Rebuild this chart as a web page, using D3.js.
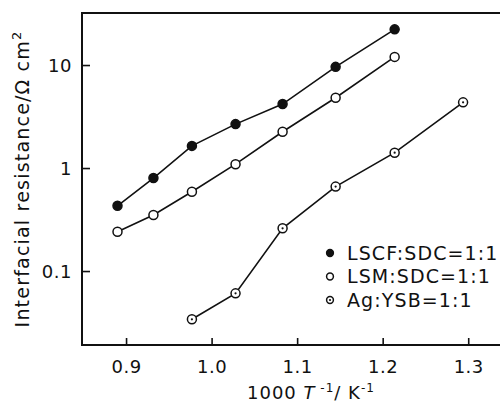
<!DOCTYPE html>
<html>
<head>
<meta charset="utf-8">
<script src="https://cdn.jsdelivr.net/npm/d3@7"></script>
<style>
  body { margin: 0; background: #fff; }
  text { font-family: "DejaVu Sans", sans-serif; fill: #111; }
</style>
</head>
<body>
<svg id="chart" width="500" height="414"></svg>
<script>
// values (1000/T in 1/K, resistance in ohm cm2)
let tempX = [0.890, 0.932, 0.977, 1.028, 1.083, 1.145, 1.214, 1.294];
let lscfR = [0.43, 0.80, 1.64, 2.67, 4.18, 9.6, 22.2];
let lsmR = [0.241, 0.35, 0.589, 1.09, 2.25, 4.81, 12.0];
let agR = [0.034, 0.0607, 0.26, 0.66, 1.41, 4.34];
let seriesNames = ["LSCF:SDC=1:1", "LSM:SDC=1:1", "Ag:YSB=1:1"];
let xTicks = [0.9, 1.0, 1.1, 1.2, 1.3];
let yTicks = [0.1, 1, 10];

let svg = d3.select("#chart");

let margin = {top: 13, right: -5, bottom: 69, left: 82};
let width = 500 - margin.left - margin.right;
let height = 414 - margin.top - margin.bottom;

let x = d3.scaleLinear()
  .domain([0.8485, 1.343])
  .range([0, width]);

let y = d3.scaleLog()
  .domain([0.01914, 32.0])
  .range([height, 0]);

let plot = svg.append("g")
  .attr("transform", "translate(" + margin.left + "," + margin.top + ")");

// frame
plot.append("rect")
  .attr("x", 0).attr("y", 0)
  .attr("width", width).attr("height", height)
  .attr("fill", "none")
  .attr("stroke", "#111")
  .attr("stroke-width", 2);

let xAxis = d3.axisBottom(x)
  .tickValues(xTicks)
  .tickSizeInner(-7)
  .tickSizeOuter(0)
  .tickPadding(15)
  .tickFormat(d3.format(".1f"));

let yAxis = d3.axisLeft(y)
  .tickValues(yTicks)
  .tickSizeInner(-8)
  .tickSizeOuter(0)
  .tickPadding(10)
  .tickFormat(d => d < 1 ? "0.1" : String(d));

let xGroup = plot.append("g")
  .attr("transform", "translate(0," + height + ")")
  .call(xAxis);
let yGroup = plot.append("g").call(yAxis);

[xGroup, yGroup].forEach(g => {
  g.select(".domain").remove();
  g.selectAll(".tick line").attr("stroke", "#111").attr("stroke-width", 1.6);
  g.selectAll(".tick text")
    .style("font-family", "DejaVu Sans, sans-serif")
    .style("font-size", "18px")
    .style("letter-spacing", "0.5px")
    .attr("fill", "#111");
});
yGroup.selectAll(".tick text").attr("dy", "0.36em");

let line = d3.line()
  .x(d => x(d[0]))
  .y(d => y(d[1]));

let series = [
  {name: seriesNames[0], pts: lscfR.map((r, i) => [tempX[i], r]), kind: "filled"},
  {name: seriesNames[1], pts: lsmR.map((r, i) => [tempX[i], r]), kind: "open"},
  {name: seriesNames[2], pts: agR.map((r, i) => [tempX[i + 2], r]), kind: "dotted"}
];

function drawMarker(g, kind, r) {
  g.append("circle")
    .attr("r", r)
    .attr("fill", kind === "filled" ? "#111" : "#fff")
    .attr("stroke", "#111")
    .attr("stroke-width", 1.5);
  if (kind === "dotted") {
    g.append("circle").attr("r", 1.1).attr("fill", "#111");
  }
}

series.forEach(s => {
  plot.append("path")
    .datum(s.pts)
    .attr("d", line)
    .attr("fill", "none")
    .attr("stroke", "#111")
    .attr("stroke-width", 1.6);

  plot.selectAll(null)
    .data(s.pts)
    .enter().append("g")
    .attr("transform", d => "translate(" + x(d[0]) + "," + y(d[1]) + ")")
    .each(function() { drawMarker(d3.select(this), s.kind, 4.5); });
});

// legend
let legend = svg.append("g").attr("transform", "translate(330,253)");
series.forEach((s, i) => {
  let row = legend.append("g").attr("transform", "translate(0," + (i * 23.5) + ")");
  drawMarker(row, s.kind, 3.4);
  row.append("text")
    .attr("x", 17)
    .attr("dy", "0.36em")
    .style("font-size", "19px")
    .style("letter-spacing", "1.1px")
    .text(s.name);
});

// x axis title
let xt = svg.append("text")
  .attr("x", 247)
  .attr("y", 399)
  .style("font-size", "18px")
  .style("letter-spacing", "1px");
xt.append("tspan").text("1000");
xt.append("tspan").style("font-style", "italic").text(" T");
xt.append("tspan").attr("dy", -7).style("font-size", "12px").text(" -1");
xt.append("tspan").attr("dy", 7).text("/ K");
xt.append("tspan").attr("dy", -7).style("font-size", "12px").text("-1");

// y axis title
let yt = svg.append("text")
  .attr("transform", "translate(29,179) rotate(-90)")
  .attr("text-anchor", "middle")
  .style("font-size", "19px")
  .style("letter-spacing", "1.2px");
yt.append("tspan").text("Interfacial resistance/Ω cm");
yt.append("tspan").attr("dy", -8).style("font-size", "13px").text("2");
</script>
</body>
</html>
